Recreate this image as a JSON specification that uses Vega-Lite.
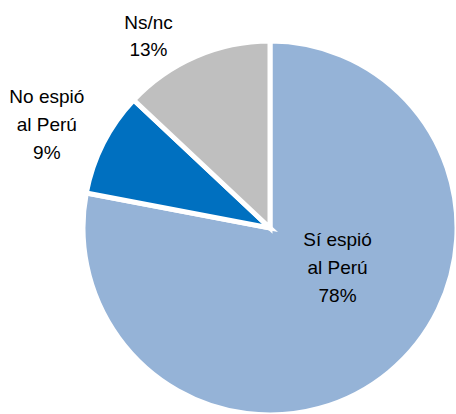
{
  "$schema": "https://vega.github.io/schema/vega-lite/v6.json",
  "autosize": {"type": "none"},
  "width": 372,
  "height": 372,
  "padding": {"left": 84, "top": 42, "right": 0, "bottom": 0},
  "background": "white",
  "view": {"stroke": null},
  "data": {"values": [
    {"cat": "Sí espió al Perú", "v": 78, "o": 1, "label": "Sí espió\nal Perú\n78%"},
    {"cat": "No espió al Perú", "v": 9, "o": 2, "label": "No espió\nal Perú\n9%"},
    {"cat": "Ns/nc", "v": 13, "o": 3, "label": "Ns/nc\n13%"}
  ]},
  "encoding": {
    "theta": {"field": "v", "type": "quantitative", "stack": true},
    "order": {"field": "o", "type": "quantitative"}
  },
  "layer": [
    {
      "mark": {"type": "arc", "outerRadius": 187, "stroke": "white", "strokeWidth": 5},
      "encoding": {
        "color": {
          "field": "cat", "type": "nominal", "legend": null,
          "scale": {"domain": ["Sí espió al Perú", "No espió al Perú", "Ns/nc"], "range": ["#95B3D7", "#0070C0", "#BFBFBF"]}
        }
      }
    },
    {
      "mark": {"type": "text", "radius": 73, "dx": 21, "dy": -44, "font": "Liberation Sans", "fontSize": 19, "lineHeight": 28, "lineBreak": "\n", "align": "center", "baseline": "middle", "color": "black"},
      "encoding": {
        "detail": {"field": "cat"},
        "text": {"condition": {"test": "datum.cat === 'Sí espió al Perú'", "field": "label"}, "value": ""}
      }
    },
    {
      "mark": {"type": "text", "radius": 246, "dx": -4, "dy": -19, "font": "Liberation Sans", "fontSize": 19, "lineHeight": 28, "lineBreak": "\n", "align": "center", "baseline": "middle", "color": "black"},
      "encoding": {
        "detail": {"field": "cat"},
        "text": {"condition": {"test": "datum.cat === 'No espió al Perú'", "field": "label"}, "value": ""}
      }
    },
    {
      "mark": {"type": "text", "radius": 223, "dx": -33, "dy": 0, "font": "Liberation Sans", "fontSize": 19, "lineHeight": 27, "lineBreak": "\n", "align": "center", "baseline": "middle", "color": "black"},
      "encoding": {
        "detail": {"field": "cat"},
        "text": {"condition": {"test": "datum.cat === 'Ns/nc'", "field": "label"}, "value": ""}
      }
    }
  ]
}
